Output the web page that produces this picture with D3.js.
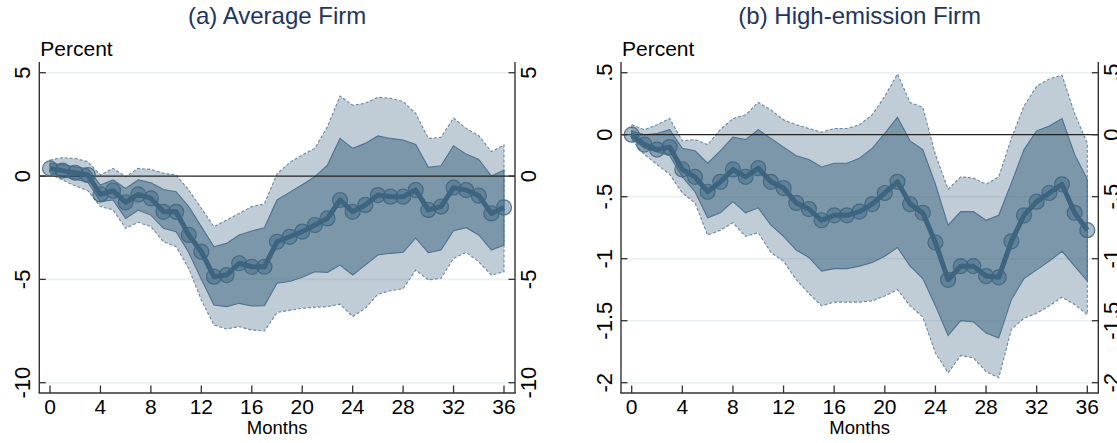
<!DOCTYPE html>
<html>
<head>
<meta charset="utf-8">
<script src="https://cdn.jsdelivr.net/npm/d3@7"></script>
<style>
  body { margin: 0; background: #fff; }
  text { font-family: "Liberation Sans", Arial, Helvetica, sans-serif; }
</style>
</head>
<body>
<div id="chart"></div>
<script>
// months after the shock
let MONTHS = [0,1,2,3,4,5,6,7,8,9,10,11,12,13,14,15,16,17,18,19,20,21,22,23,24,25,26,27,28,29,30,31,32,33,34,35,36]
let X_TICKS = [0,4,8,12,16,20,24,28,32,36]

// (a) average firm
let AVG_EST  = [0.37,0.26,0.16,0.05,-0.89,-0.71,-1.27,-0.89,-1.08,-1.73,-1.73,-2.85,-3.66,-4.87,-4.79,-4.22,-4.39,-4.39,-3.18,-2.94,-2.69,-2.37,-2.05,-1.16,-1.73,-1.40,-0.92,-1.00,-1.00,-0.68,-1.64,-1.48,-0.56,-0.68,-0.95,-1.81,-1.52]
let AVG_HI68 = [0.62,0.55,0.45,0.35,-0.44,-0.19,-0.60,-0.19,-0.32,-0.65,-0.76,-1.48,-2.45,-3.42,-3.26,-2.85,-2.66,-2.50,-1.16,-0.79,-0.42,-0.03,0.53,1.82,1.34,1.58,1.94,1.82,1.74,1.53,0.42,0.50,1.47,1.06,0.80,0.00,0.29]
let AVG_LO68 = [0.18,-0.02,-0.15,-0.30,-1.24,-1.16,-2.05,-1.65,-1.89,-2.53,-2.69,-3.70,-5.00,-6.24,-6.32,-6.16,-6.29,-6.27,-5.19,-5.10,-4.90,-4.63,-4.66,-4.31,-4.79,-4.31,-3.82,-3.74,-3.69,-3.01,-3.71,-3.58,-2.65,-2.50,-2.85,-3.58,-3.34]
let AVG_HI90 = [0.77,0.89,0.85,0.69,0.05,0.37,-0.03,0.37,0.32,0.13,0.05,-0.68,-1.56,-2.45,-2.13,-1.81,-1.48,-1.35,0.10,0.65,1.02,1.34,2.39,3.87,3.43,3.52,3.81,3.76,3.60,3.03,1.82,1.87,2.80,2.30,1.95,1.18,1.50]
let AVG_LO90 = [0.10,-0.19,-0.48,-0.71,-1.48,-1.64,-2.53,-2.24,-2.45,-3.18,-3.42,-4.47,-6.00,-7.21,-7.40,-7.29,-7.45,-7.50,-6.60,-6.50,-6.40,-6.35,-6.32,-6.20,-6.80,-6.40,-5.72,-5.55,-5.45,-4.55,-5.03,-4.95,-3.98,-3.69,-4.15,-4.79,-4.63]
let AVG_Y_TICKS = [5, 0, -5, -10]
let AVG_Y_LABELS = ["5", "0", "-5", "-10"]

// (b) high-emission firm
let HIGH_EST  = [0.00,-0.08,-0.12,-0.10,-0.28,-0.34,-0.46,-0.38,-0.28,-0.34,-0.27,-0.38,-0.43,-0.55,-0.60,-0.69,-0.65,-0.65,-0.62,-0.56,-0.47,-0.38,-0.56,-0.63,-0.87,-1.17,-1.06,-1.06,-1.14,-1.15,-0.86,-0.65,-0.54,-0.47,-0.40,-0.63,-0.77]
let HIGH_HI68 = [0.03,0.00,0.01,0.04,-0.11,-0.13,-0.23,-0.13,-0.02,-0.04,0.04,-0.03,-0.10,-0.17,-0.20,-0.26,-0.23,-0.23,-0.19,-0.11,0.01,0.14,-0.05,-0.12,-0.40,-0.73,-0.62,-0.62,-0.69,-0.65,-0.39,-0.12,0.03,0.07,0.13,-0.16,-0.36]
let HIGH_LO68 = [-0.03,-0.11,-0.14,-0.17,-0.34,-0.46,-0.67,-0.63,-0.54,-0.63,-0.59,-0.73,-0.82,-0.93,-0.99,-1.10,-1.08,-1.08,-1.06,-1.03,-0.98,-0.91,-1.06,-1.16,-1.38,-1.62,-1.50,-1.51,-1.60,-1.64,-1.33,-1.16,-1.09,-1.02,-0.94,-1.06,-1.18]
let HIGH_HI90 = [0.08,0.04,0.08,0.13,-0.05,-0.04,-0.08,0.04,0.13,0.16,0.26,0.20,0.12,0.08,0.05,0.02,0.05,0.05,0.08,0.16,0.31,0.49,0.26,0.22,-0.16,-0.44,-0.34,-0.35,-0.40,-0.34,-0.03,0.23,0.39,0.45,0.48,0.17,-0.07]
let HIGH_LO90 = [-0.04,-0.16,-0.24,-0.32,-0.47,-0.55,-0.81,-0.77,-0.71,-0.82,-0.79,-0.95,-1.02,-1.17,-1.28,-1.38,-1.35,-1.35,-1.35,-1.34,-1.30,-1.25,-1.38,-1.47,-1.76,-1.92,-1.78,-1.80,-1.91,-1.96,-1.57,-1.48,-1.44,-1.38,-1.31,-1.37,-1.45]
let HIGH_Y_TICKS = [0.5, 0, -0.5, -1, -1.5, -2]
let HIGH_Y_LABELS = [".5", "0", "-.5", "-1", "-1.5", "-2"]

let MAIN = "#3e6580"

let svg = d3.select("#chart")
    .append("svg")
    .attr("width", 1117)
    .attr("height", 443)

function drawPanel(opts) {
    let g = svg.append("g")
    let x = d3.scaleLinear().domain([0, 36]).range(opts.xRange)
    let y = d3.scaleLinear().domain(opts.yDomain).range([382.7, 72.7])

    let axL = opts.xRange[0] - 10.7, axR = opts.xRange[1] + 11
    let axTop = 62, axBot = 393

    let rows = MONTHS.map(function (m, i) {
        return { m: m, est: opts.est[i], lo68: opts.lo68[i], hi68: opts.hi68[i], lo90: opts.lo90[i], hi90: opts.hi90[i] }
    })

    // grid lines
    g.selectAll("grid")
        .data(opts.yTicks.filter(function (t) { return t !== 0 }))
        .enter()
        .append("line")
        .attr("x1", axL).attr("x2", axR)
        .attr("y1", function (d) { return y(d) }).attr("y2", function (d) { return y(d) })
        .attr("stroke", "#e9eff3")
        .attr("stroke-width", 1.6)

    // outer (90%) band
    let area90 = d3.area()
        .x(function (d) { return x(d.m) })
        .y0(function (d) { return y(d.lo90) })
        .y1(function (d) { return y(d.hi90) })
    g.append("path")
        .attr("d", area90(rows))
        .attr("fill", MAIN)
        .attr("fill-opacity", 0.32)
        .attr("stroke", "#6a88a0")
        .attr("stroke-width", 1.1)
        .attr("stroke-dasharray", "3,2")

    // inner (68%) band
    let area68 = d3.area()
        .x(function (d) { return x(d.m) })
        .y0(function (d) { return y(d.lo68) })
        .y1(function (d) { return y(d.hi68) })
    g.append("path")
        .attr("d", area68(rows))
        .attr("fill", MAIN)
        .attr("fill-opacity", 0.52)
        .attr("stroke", "#4d7390")
        .attr("stroke-width", 1.1)

    // zero line
    g.append("line")
        .attr("x1", axL).attr("x2", axR)
        .attr("y1", y(0)).attr("y2", y(0))
        .attr("stroke", "#222")
        .attr("stroke-width", 1.3)

    // point estimates
    let line = d3.line()
        .x(function (d) { return x(d.m) })
        .y(function (d) { return y(d.est) })
    g.append("path")
        .attr("d", line(rows))
        .attr("fill", "none")
        .attr("stroke", MAIN)
        .attr("stroke-width", 5)
        .attr("stroke-linejoin", "round")

    g.selectAll("dots")
        .data(rows)
        .enter()
        .append("circle")
        .attr("cx", function (d) { return x(d.m) })
        .attr("cy", function (d) { return y(d.est) })
        .attr("r", 7.5)
        .attr("fill", MAIN)
        .attr("fill-opacity", 0.45)
        .attr("stroke", MAIN)
        .attr("stroke-opacity", 0.85)
        .attr("stroke-width", 1.2)

    // axes lines
    let axisColor = "#333"
    g.append("line").attr("x1", axL).attr("x2", axL).attr("y1", axTop).attr("y2", axBot)
        .attr("stroke", axisColor).attr("stroke-width", 1.4)
    g.append("line").attr("x1", axR).attr("x2", axR).attr("y1", axTop).attr("y2", axBot)
        .attr("stroke", axisColor).attr("stroke-width", 1.4)
    g.append("line").attr("x1", axL - 0.7).attr("x2", axR + 0.7).attr("y1", axBot).attr("y2", axBot)
        .attr("stroke", axisColor).attr("stroke-width", 1.4)

    // y ticks + labels, both sides
    opts.yTicks.forEach(function (t, i) {
        let yy = y(t)
        g.append("line").attr("x1", axL).attr("x2", axL + 6.5).attr("y1", yy).attr("y2", yy)
            .attr("stroke", axisColor).attr("stroke-width", 1.3)
        g.append("line").attr("x1", axR - 6.5).attr("x2", axR).attr("y1", yy).attr("y2", yy)
            .attr("stroke", axisColor).attr("stroke-width", 1.3)
        g.append("text")
            .attr("transform", "translate(" + (axL - 9) + "," + yy + ") rotate(-90)")
            .attr("text-anchor", "middle")
            .style("font-size", "22px")
            .text(opts.yLabels[i])
        g.append("text")
            .attr("transform", "translate(" + (axR + 20.5) + "," + yy + ") rotate(-90)")
            .attr("text-anchor", "middle")
            .style("font-size", "22px")
            .text(opts.yLabels[i])
    })

    // x ticks + labels
    X_TICKS.forEach(function (t) {
        g.append("line").attr("x1", x(t)).attr("x2", x(t)).attr("y1", axBot - 7.5).attr("y2", axBot)
            .attr("stroke", axisColor).attr("stroke-width", 1.3)
        g.append("text")
            .attr("x", x(t)).attr("y", 413.5)
            .attr("text-anchor", "middle")
            .style("font-size", "21px")
            .text(t)
    })

    let mid = (axL + axR) / 2
    g.append("text")
        .attr("x", mid).attr("y", 434)
        .attr("text-anchor", "middle")
        .style("font-size", "18.5px")
        .text("Months")

    g.append("text")
        .attr("x", axL + 1).attr("y", 56)
        .style("font-size", "21px")
        .text("Percent")

    g.append("text")
        .attr("x", mid).attr("y", 24)
        .attr("text-anchor", "middle")
        .style("font-size", "24px")
        .attr("fill", "#1d3560")
        .text(opts.title)
}

drawPanel({
    title: "(a) Average Firm",
    xRange: [50, 504],
    yDomain: [-10, 5],
    yTicks: AVG_Y_TICKS, yLabels: AVG_Y_LABELS,
    est: AVG_EST, lo68: AVG_LO68, hi68: AVG_HI68, lo90: AVG_LO90, hi90: AVG_HI90
})

drawPanel({
    title: "(b) High-emission Firm",
    xRange: [631.7, 1087.3],
    yDomain: [-2, 0.5],
    yTicks: HIGH_Y_TICKS, yLabels: HIGH_Y_LABELS,
    est: HIGH_EST, lo68: HIGH_LO68, hi68: HIGH_HI68, lo90: HIGH_LO90, hi90: HIGH_HI90
})
</script>
</body>
</html>
